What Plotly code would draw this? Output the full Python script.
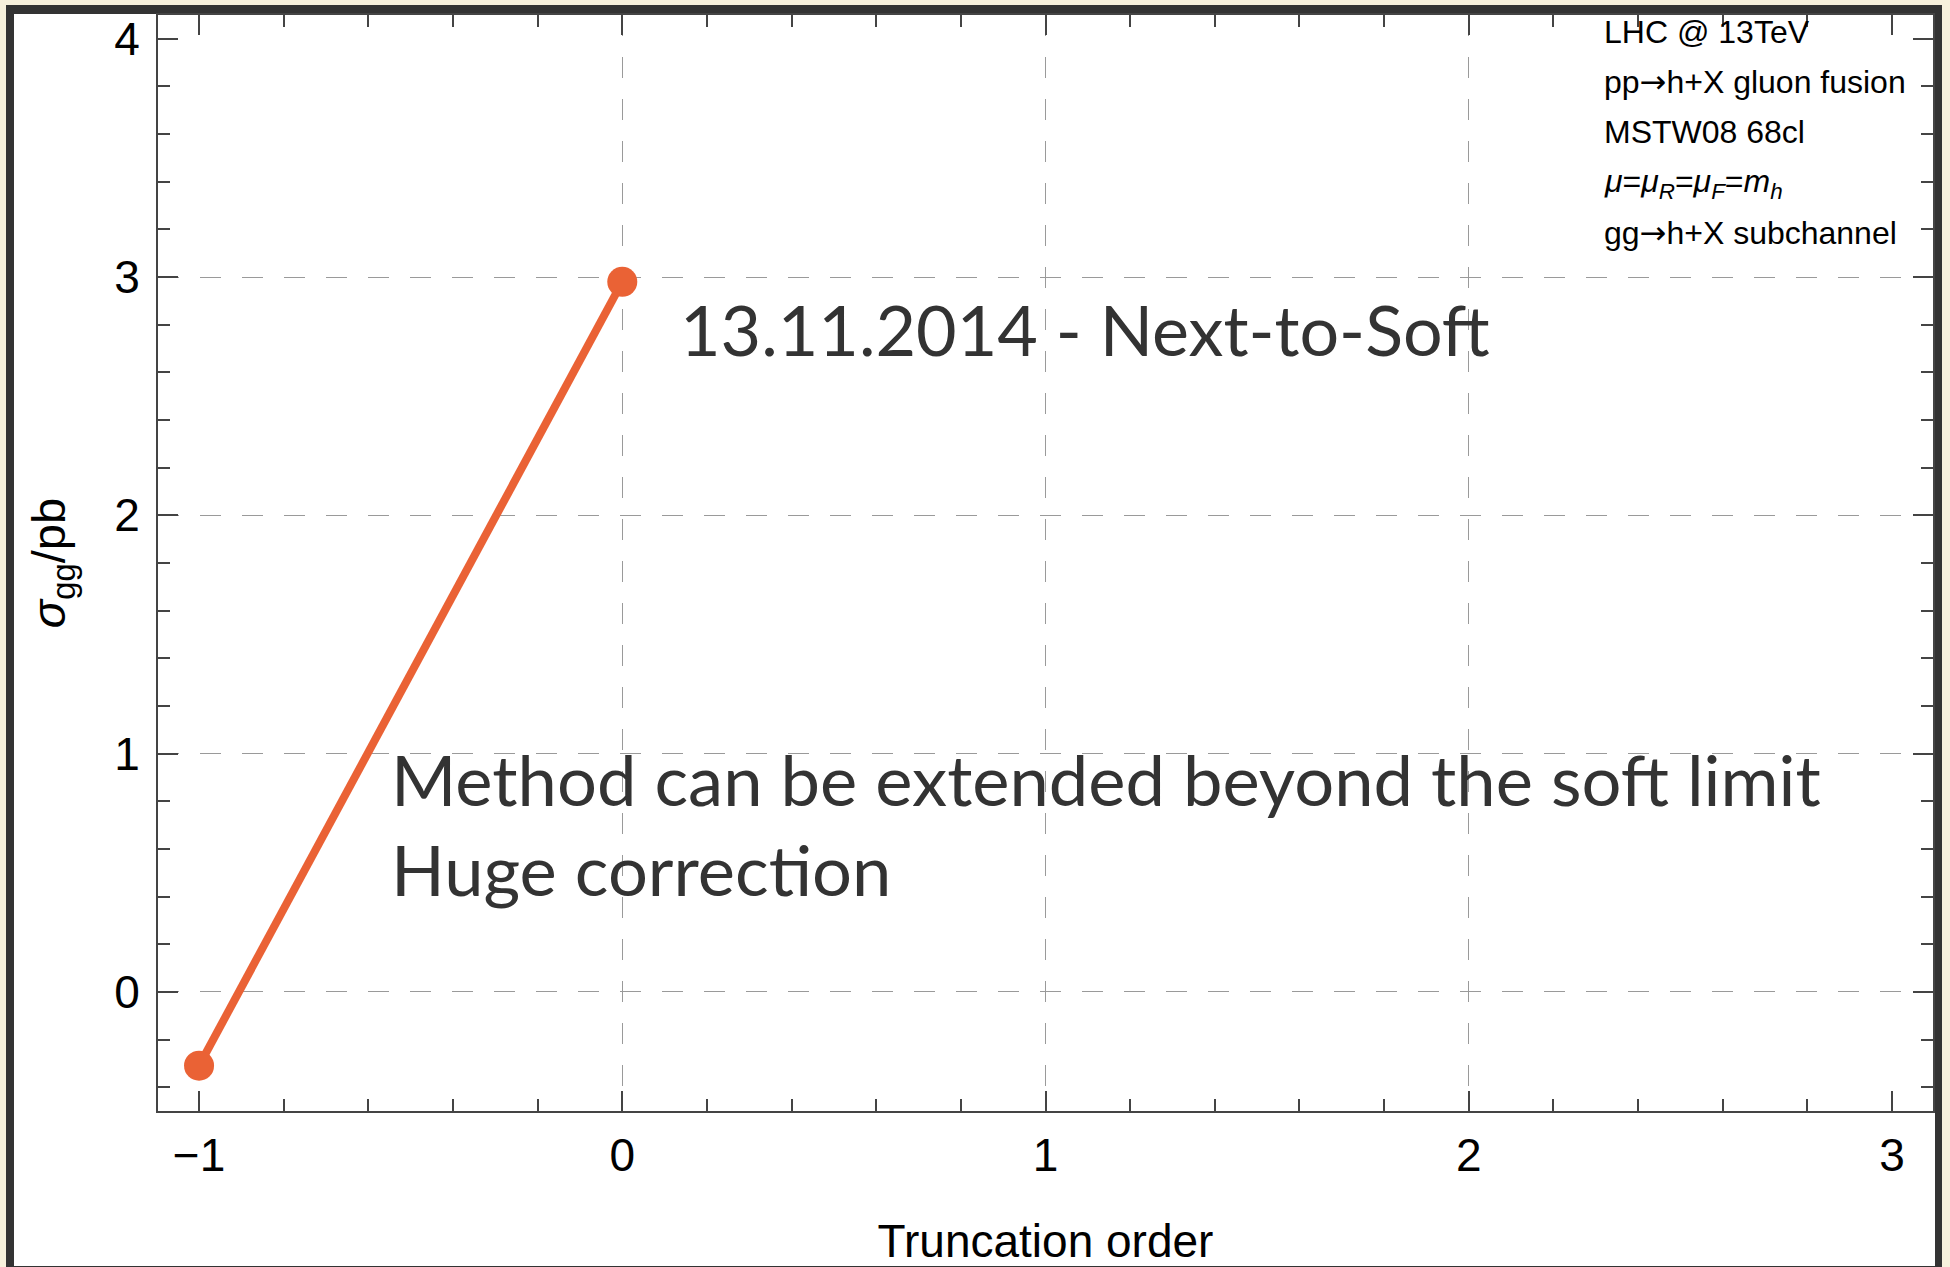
import plotly.graph_objects as go

# ---- data ----
truncation_order = [-1, 0]
sigma_gg = [-0.31, 2.98]

x_tick_vals = [-1, 0, 1, 2, 3]
y_tick_vals = [0, 1, 2, 3, 4]
x_grid_vals = [0, 1, 2]
y_grid_vals = [0, 1, 2, 3]

ARROW = "<span style='font-family:DejaVu Sans'>\u2192</span>"
inset_lines = [
    "LHC @ 13TeV",
    "pp" + ARROW + "h+X gluon fusion",
    "MSTW08 68cl",
    "<i>\u03bc</i>=<i>\u03bc</i><sub><i>R</i></sub>=<i>\u03bc</i><sub><i>F</i></sub>=<i>m</i><sub><i>h</i></sub>",
    "gg" + ARROW + "h+X subchannel",
]
headline = "13.11.2014 - Next-to-Soft"
note_lines = ["Method can be extended beyond the soft limit", "Huge correction"]

x_title = "Truncation order"
y_title = "<i>\u03c3</i><sub>gg</sub>/pb"

# ---- layout geometry (pixels) ----
W, H = 1950, 1267
ML, MR, MT, MB = 158, 17, 15, 156
PW, PH = W - ML - MR, H - MT - MB
XR = [-1.097, 3.097]
YR = [-0.5, 4.1]


def px(xpix):
    return (xpix - ML) / PW


def py(ypix):
    return (H - MB - ypix) / PH


ORANGE = "#EA6235"
AX = "#444444"
GRID = "#9a9a9a"
SANS = "Liberation Sans, Arial, Helvetica, sans-serif"
LATO = "Lato, sans-serif"

fig = go.Figure()
fig.add_trace(go.Scatter(
    x=truncation_order, y=sigma_gg, mode="lines+markers",
    line=dict(color=ORANGE, width=8),
    marker=dict(color=ORANGE, size=30),
    showlegend=False, hoverinfo="skip",
))
# empty traces so that the grid-only overlay axes are drawn
fig.add_trace(go.Scatter(x=[], y=[], xaxis="x2", yaxis="y", showlegend=False, hoverinfo="skip"))
fig.add_trace(go.Scatter(x=[], y=[], xaxis="x", yaxis="y2", showlegend=False, hoverinfo="skip"))

axis_common = dict(
    showline=True, linecolor=AX, linewidth=2, mirror="ticks",
    ticks="inside", ticklen=20, tickwidth=1.5, tickcolor=AX,
    showgrid=False, zeroline=False, automargin=False,
    tickfont=dict(family=SANS, size=46, color="black"),
)
grid_common = dict(
    showticklabels=False, ticks="", showline=False, zeroline=False,
    showgrid=True, gridcolor=GRID, gridwidth=1.2, griddash="21px,21px",
    automargin=False,
)

fig.update_layout(
    width=W, height=H,
    margin=dict(l=ML, r=MR, t=MT, b=MB, pad=0, autoexpand=False),
    paper_bgcolor="#F7F1DC",
    plot_bgcolor="white",
    showlegend=False,
    xaxis=dict(
        range=XR, tickvals=x_tick_vals, **axis_common,
        minor=dict(dtick=0.2, tick0=0, ticks="inside", ticklen=12,
                   tickwidth=1.5, tickcolor=AX, showgrid=False),
        title=dict(text=x_title, font=dict(family=SANS, size=46, color="black"),
                   standoff=54),
        ticklabelstandoff=3,
    ),
    yaxis=dict(
        range=YR, tickvals=y_tick_vals, **axis_common,
        minor=dict(dtick=0.2, tick0=0, ticks="inside", ticklen=12,
                   tickwidth=1.5, tickcolor=AX, showgrid=False),
        title=dict(text=y_title, font=dict(family=SANS, size=47, color="black"),
                   standoff=34),
        ticklabelstandoff=7,
    ),
    xaxis2=dict(range=XR, overlaying="x", anchor="y", tickvals=x_grid_vals, **grid_common),
    yaxis2=dict(range=YR, overlaying="y", anchor="x", tickvals=y_grid_vals, **grid_common),
)

# slide frame (dark border + white page)
fig.add_shape(type="rect", xref="paper", yref="paper",
              x0=px(6), x1=px(1942), y0=py(1280), y1=py(5),
              fillcolor="#333333", line=dict(width=0), layer="below")
fig.add_shape(type="rect", xref="paper", yref="paper",
              x0=px(14), x1=px(1935), y0=py(1266), y1=py(14),
              fillcolor="white", line=dict(width=0), layer="below")

# inset text block
inset_y = [32, 82, 132, 183, 233]
for txt, yy in zip(inset_lines, inset_y):
    fig.add_annotation(text=txt, xref="paper", yref="paper",
                       x=px(1602), y=py(yy), xanchor="left", yanchor="middle",
                       showarrow=False,
                       font=dict(family=SANS, size=32, color="black"))

# large slide annotations
fig.add_annotation(text=headline, xref="paper", yref="paper",
                   x=px(678), y=py(329), xanchor="left", yanchor="middle",
                   showarrow=False, font=dict(family=LATO, size=70, color="#333333"))
for txt, yy in zip(note_lines, [778, 868]):
    fig.add_annotation(text=txt, xref="paper", yref="paper",
                       x=px(389), y=py(yy), xanchor="left", yanchor="middle",
                       showarrow=False, font=dict(family=LATO, size=70.5, color="#333333"))

fig.write_html("out.html", config={"displayModeBar": False},
               post_script="document.body.style.margin='0';")
